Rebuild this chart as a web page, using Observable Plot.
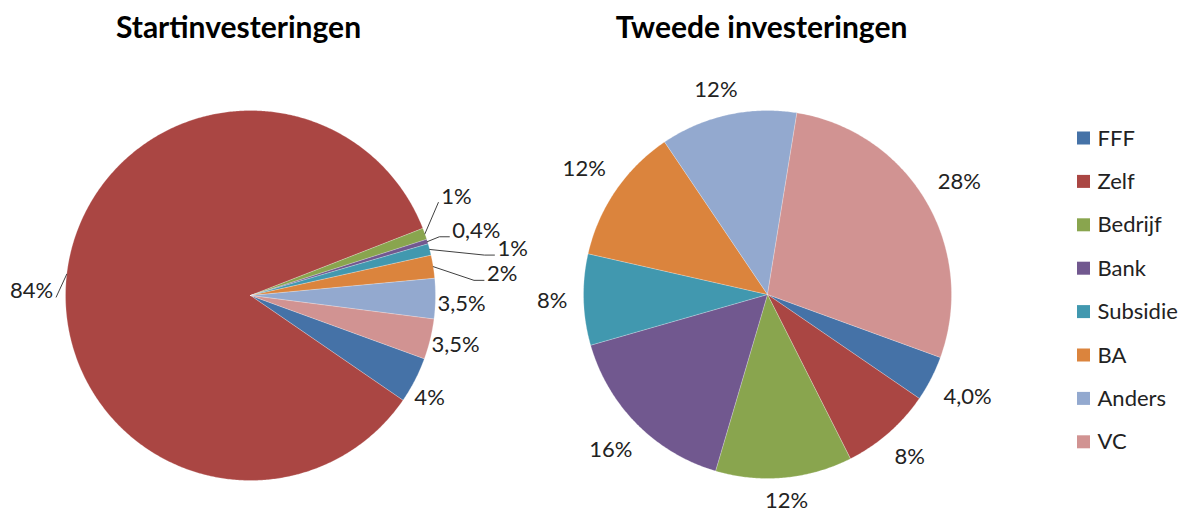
<!DOCTYPE html>
<html>
<head>
<meta charset="utf-8">
<script src="https://cdn.jsdelivr.net/npm/d3@7"></script>
<script src="https://cdn.jsdelivr.net/npm/@observablehq/plot@0.6"></script>
<style>
  html, body { margin: 0; padding: 0; background: #fff; overflow: hidden; }
  #chart svg { display: block; }
</style>
</head>
<body>
<div id="chart"></div>
<script>
// ---- data ----
const categories = ["FFF", "Zelf", "Bedrijf", "Bank", "Subsidie", "BA", "Anders", "VC"];
const colors = ["#4572A7", "#AA4643", "#89A54E", "#71588F", "#4198AF", "#DB843D", "#93A9CF", "#D19392"];
const startValues = [4, 84, 1, 0.4, 1, 2, 3.5, 3.5];
const startLabels = ["4%", "84%", "1%", "0,4%", "1%", "2%", "3,5%", "3,5%"];
const secondValues = [4, 8, 12, 16, 8, 12, 12, 28];
const secondLabels = ["4,0%", "8%", "12%", "16%", "8%", "12%", "12%", "28%"];
const titles = ["Startinvesteringen", "Tweede investeringen"];

// ---- layout ----
const W = 1189, H = 514;
const FONT = "Lato";
const labelSize = 22, titleSize = 30, legendSize = 22;
const firstSliceAngle = 110; // degrees, clockwise from 12 o'clock
const pies = [
  {cx: 250, cy: 295, r: 185, gap: 5, values: startValues, labels: startLabels, titleX: 238},
  {cx: 767, cy: 294, r: 184, gap: 16, values: secondValues, labels: secondLabels, titleX: 761}
];
const titleY = 28;
// best-fit nudges for the crowded labels of the first pie (pixels)
const startLabelNudge = [[-5, 8], [-8, 20], [11, -30], [20, -2], [62, 5], [48, 11], [-3, 5], [-4, -1]];
const secondLabelNudge = [[0, 0], [0, 0], [0, -2], [0, 0], [0, 0], [0, 0], [-6, 3], [0, 0]];
const legend = {x: 1077, y0: 138, step: 43.4, box: 13, textX: 1097};

const canvas = document.createElement("canvas").getContext("2d");
canvas.font = `${labelSize}px ${FONT}`;
const measure = (t) => canvas.measureText(t).width;

const rad = (d) => d * Math.PI / 180;
const slicePts = [], labelPts = [], leaderPts = [], titleRows = [];

pies.forEach((p, pi) => {
  const arcs = d3.pie().sort(null)
    .startAngle(rad(firstSliceAngle)).endAngle(rad(firstSliceAngle + 360))(p.values);
  const nudges = pi === 0 ? startLabelNudge : secondLabelNudge;
  arcs.forEach((a, i) => {
    const id = `${pi}-${i}`;
    const cat = categories[i];
    const steps = Math.max(2, Math.ceil((a.endAngle - a.startAngle) / rad(0.5)));
    slicePts.push({id, cat, x: p.cx, y: p.cy});
    for (let k = 0; k <= steps; k++) {
      const t = a.startAngle + (a.endAngle - a.startAngle) * k / steps;
      slicePts.push({id, cat, x: p.cx + p.r * Math.sin(t), y: p.cy - p.r * Math.cos(t)});
    }
    slicePts.push({id, cat, x: p.cx, y: p.cy});

    // label placement (outside the slice, along its mid angle)
    const mid = (a.startAngle + a.endAngle) / 2;
    const s = Math.sin(mid), c = -Math.cos(mid);
    const text = p.labels[i];
    const hw = measure(text) / 2, hh = labelSize * 0.35;
    const R = p.r + p.gap + hw * Math.abs(s) + hh * Math.abs(c);
    const [nx, ny] = nudges[i];
    const lx = p.cx + R * s + nx, ly = p.cy + R * c + ny;
    labelPts.push({x: lx, y: ly, text});
    if (Math.hypot(nx, ny) > 10) {
      const ex = p.cx + p.r * s, ey = p.cy + p.r * c;
      const right = lx > p.cx;
      const endX = right ? lx - hw - 3 : lx + hw + 3;
      const yy = ly + 6;
      leaderPts.push({id, x: ex, y: ey});
      if (Math.abs(endX - ex) > 20) leaderPts.push({id, x: right ? endX - 10 : endX + 10, y: yy});
      leaderPts.push({id, x: endX, y: yy});
    }
  });
  titleRows.push({x: p.titleX, y: titleY, text: titles[pi]});
});

const legendRows = categories.map((cat, i) => ({cat, y: legend.y0 + i * legend.step}));

const chart = Plot.plot({
  width: W, height: H,
  margin: 0,
  x: {domain: [0, W], range: [0, W], axis: null},
  y: {domain: [0, H], range: [0, H], axis: null},
  color: {domain: categories, range: colors},
  style: {fontFamily: FONT, background: "#fff", overflow: "visible"},
  marks: [
    Plot.line(slicePts, {x: "x", y: "y", z: "id", fill: "cat", stroke: "#fff", strokeWidth: 0.6, strokeOpacity: 0.4, curve: "linear"}),
    Plot.line(leaderPts, {x: "x", y: "y", z: "id", stroke: "#404040", strokeWidth: 1}),
    Plot.text(labelPts, {x: "x", y: "y", text: "text", fontSize: labelSize, fill: "#222"}),
    Plot.text(titleRows, {x: "x", y: "y", text: "text", fontSize: titleSize, fontWeight: "bold", fill: "#000"}),
    Plot.rect(legendRows, {x1: () => legend.x, x2: () => legend.x + legend.box,
      y1: (d) => d.y - legend.box / 2, y2: (d) => d.y + legend.box / 2, fill: "cat"}),
    Plot.text(legendRows, {x: () => legend.textX, y: "y", text: "cat", textAnchor: "start", fontSize: legendSize, fill: "#222"})
  ]
});
document.getElementById("chart").appendChild(chart);
</script>
</body>
</html>
